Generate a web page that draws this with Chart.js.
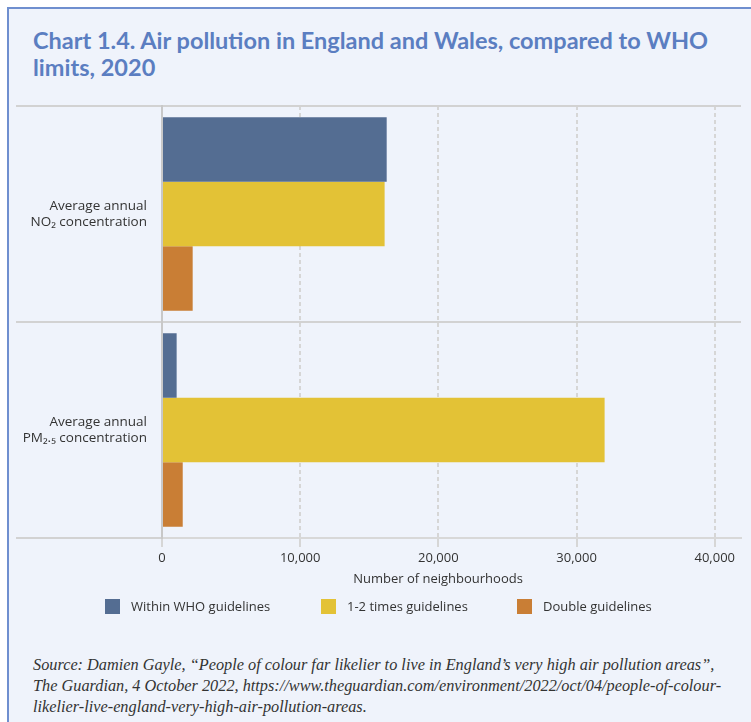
<!DOCTYPE html>
<html>
<head>
<meta charset="utf-8">
<script src="https://cdn.jsdelivr.net/npm/chart.js@4"></script>
<style>
  body { margin: 0; background: #fff; width: 751px; height: 722px; overflow: hidden; position: relative; }
  .frame {
    position: absolute; left: 7px; top: 7px; right: 0; bottom: 0;
    background: #eff3fb;
    border-left: 2px solid #6f8fcf;
    border-top: 2px solid #6f8fcf;
  }
  .title {
    position: absolute; left: 33px; top: 27px; width: 710px;
    font-family: Lato, sans-serif; font-weight: bold; font-size: 23.5px; line-height: 27px;
    color: #5b7ec1;
  }
  .chart-box { position: absolute; left: 0; top: 90px; width: 751px; height: 500px; }
  .axis-title { position: absolute; left: 288px; width: 300px; top: 569px; text-align: center;
    font-family: 'Open Sans', sans-serif; font-size: 13px; line-height: 18px; color: #333; }
  .legend { position: absolute; top: 599px; left: 0; width: 751px; height: 16px;
    font-family: 'Open Sans', sans-serif; font-size: 13px; color: #333; }
  .legend span.box { position: absolute; top: 0; width: 15px; height: 15px; }
  .legend span.txt { position: absolute; top: -1px; line-height: 17px; white-space: nowrap; }
  .source {
    position: absolute; left: 33px; top: 654px;
    font-family: 'Liberation Serif', serif; font-style: italic; font-size: 16.3px; line-height: 21px;
    color: #333; white-space: nowrap;
  }
</style>
</head>
<body>
<div class="frame"></div>
<div class="title">Chart 1.4. Air pollution in England and Wales, compared to WHO<br>limits, 2020</div>
<div class="chart-box"><canvas id="chart"></canvas></div>
<div class="axis-title">Number of neighbourhoods</div>
<div class="legend" id="legend"></div>
<div class="source">Source: Damien Gayle, “People of colour far likelier to live in England’s very high air pollution areas”,<br>The Guardian, 4 October 2022, https://www.theguardian.com/environment/2022/oct/04/people-of-colour-<br>likelier-live-england-very-high-air-pollution-areas.</div>

<script>
// data
const categories = [['Average annual', 'NO₂ concentration'], ['Average annual', 'PM₂.₅ concentration']];
const seriesNames = ['Within WHO guidelines', '1-2 times guidelines', 'Double guidelines'];
const withinWho = [16260, 1060];
const oneToTwo = [16110, 32030];
const doubleLimit = [2220, 1500];
const xTicks = [0, 10000, 20000, 30000, 40000];

const colors = ['#546d92', '#e3c236', '#c97e35'];

Chart.defaults.font.family = "'Open Sans', sans-serif";
Chart.defaults.font.size = 13;
Chart.defaults.color = '#333';

const chart = new Chart(document.getElementById('chart'), {
    type: 'bar',
    data: {
        labels: categories,
        datasets: [
            { label: seriesNames[0], data: withinWho, backgroundColor: colors[0] },
            { label: seriesNames[1], data: oneToTwo, backgroundColor: colors[1] },
            { label: seriesNames[2], data: doubleLimit, backgroundColor: colors[2] }
        ]
    },
    options: {
        indexAxis: 'y',
        responsive: true,
        maintainAspectRatio: false,
        animation: false,
        categoryPercentage: 0.895,
        barPercentage: 1,
        layout: { padding: { top: 16, right: 10, left: 0, bottom: 0 } },
        plugins: {
            legend: { display: false },
            tooltip: { enabled: false }
        },
        scales: {
            x: {
                min: 0,
                max: 41900,
                afterBuildTicks: s => { s.ticks = xTicks.map(v => ({ value: v })); },
                afterFit: s => { s.height = 52; },
                ticks: {
                    padding: 3,
                    callback: v => v.toLocaleString('en-GB')
                },
                grid: {
                    color: '#d6d6d6',
                    lineWidth: 2,
                    tickLength: 9,
                    tickBorderDash: []
                },
                border: { color: '#d8d8d8', width: 2, dash: [4, 3] }
            },
            y: {
                afterFit: s => { s.width = 162; },
                grid: {
                    color: '#d2d2d2',
                    lineWidth: 2,
                    tickLength: 146,
                    offset: true
                },
                border: { color: '#c8c8c8', width: 2 },
                ticks: { padding: -131, font: { size: 13.5 } }
            }
        }
    }
});

// legend as plain html under the axis
const legendX = [105, 321, 517];
const legendEl = document.getElementById('legend');
chart.data.datasets.forEach((ds, i) => {
    const box = document.createElement('span');
    box.className = 'box';
    box.style.left = legendX[i] + 'px';
    box.style.background = ds.backgroundColor;
    const txt = document.createElement('span');
    txt.className = 'txt';
    txt.style.left = (legendX[i] + 26) + 'px';
    txt.textContent = ds.label;
    legendEl.appendChild(box);
    legendEl.appendChild(txt);
});
</script>
</body>
</html>
